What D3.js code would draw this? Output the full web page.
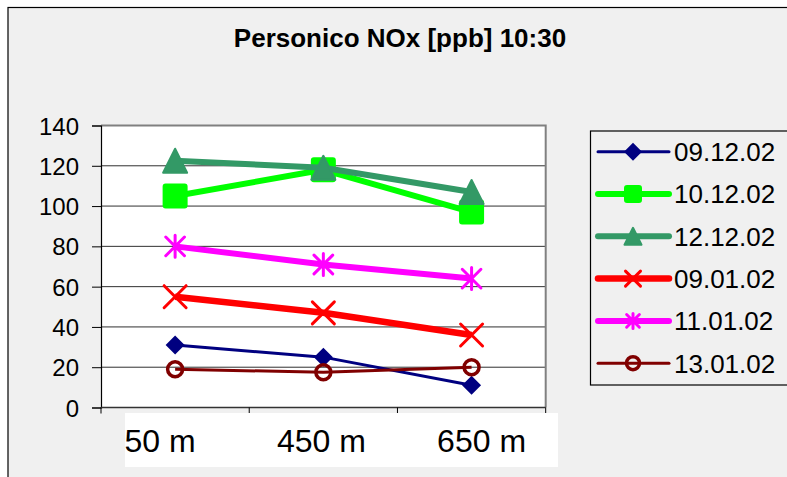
<!DOCTYPE html>
<html>
<head>
<meta charset="utf-8">
<script src="https://cdn.jsdelivr.net/npm/d3@7"></script>
<style>
  html, body { margin: 0; padding: 0; background: #ffffff; }
  svg { display: block; font-family: "Liberation Sans", Arial, sans-serif; }
</style>
</head>
<body>
<svg id="chart" width="787" height="477"></svg>
<script>
// Sampling heights along the valley
const categories = ["50 m", "450 m", "650 m"];

// NOx concentrations [ppb] at 10:30 for each day
const s091202 = [31, 25, 11];
const s101202 = [105, 118, 97];
const s121202 = [122.5, 119, 107];
const s090102 = [55, 47, 36];
const s110102 = [80, 71, 64];
const s130102 = [19, 17.5, 20];

const seriesNames = ["09.12.02", "10.12.02", "12.12.02", "09.01.02", "11.01.02", "13.01.02"];
const yTicks = [0, 20, 40, 60, 80, 100, 120, 140];

const seriesValues = [s091202, s101202, s121202, s090102, s110102, s130102];

// Drawing style per series (size = plot marker, lsize = legend marker)
const styles = [
  { color: "#000080", width: 3, marker: "diamond", size: 19, lsize: 18 },
  { color: "#00ff00", width: 6, marker: "square", size: 25, lsize: 18 },
  { color: "#339966", width: 6, marker: "triangle", size: 26, lsize: 19 },
  { color: "#ff0000", width: 6.5, marker: "cross", size: 25, lsize: 18 },
  { color: "#ff00ff", width: 6, marker: "star", size: 25, lsize: 18 },
  { color: "#800000", width: 3, marker: "circle", size: 19, lsize: 17 }
];

const svg = d3.select("#chart");
const W = 787, H = 477;

// Chart area background and frame
svg.append("rect").attr("x", 8).attr("y", 7.5).attr("width", W).attr("height", H)
  .attr("fill", "#f0f0f0").attr("stroke", "#000").attr("stroke-width", 1.2);

// Title
svg.append("text").attr("x", 400).attr("y", 47)
  .attr("text-anchor", "middle").attr("font-weight", "bold")
  .attr("font-size", 26).attr("fill", "#000")
  .text("Personico NOx [ppb] 10:30");

const plot = { left: 101, right: 545.7, top: 125.5, bottom: 407.5 };

const x = d3.scaleBand().domain(categories).range([plot.left, plot.right]).padding(0);
const y = d3.scaleLinear().domain([0, 140]).range([plot.bottom, plot.top]);
const cx = c => x(c) + x.bandwidth() / 2;

// Plot area
svg.append("rect").attr("x", plot.left).attr("y", plot.top)
  .attr("width", plot.right - plot.left).attr("height", plot.bottom - plot.top)
  .attr("fill", "#ffffff");

// Horizontal gridlines
svg.append("g").selectAll("line").data(yTicks.filter(t => t > 0 && t < 140)).join("line")
  .attr("x1", plot.left).attr("x2", plot.right)
  .attr("y1", d => y(d)).attr("y2", d => y(d))
  .attr("stroke", "#303030").attr("stroke-width", 1);

// Plot frame (top / right in grey)
svg.append("path")
  .attr("d", `M${plot.left},${plot.top}H${plot.right}V${plot.bottom}`)
  .attr("fill", "none").attr("stroke", "#808080").attr("stroke-width", 2);

// Y axis
const yAxis = d3.axisLeft(y).tickValues(yTicks).tickSize(9).tickPadding(13)
  .tickFormat(d3.format("d"));
const gy = svg.append("g").attr("transform", `translate(${plot.left},0)`).call(yAxis);
gy.select(".domain").attr("stroke", "#000").attr("stroke-width", 1.2);
gy.selectAll(".tick line").attr("stroke", "#000");
gy.selectAll(".tick text").attr("font-size", 24).attr("font-family", "Liberation Sans, Arial, sans-serif")
  .attr("fill", "#000").attr("dy", "0.36em");

// X axis: category dividers below the axis line
const dividers = [0, 1, 2, 3].map(i => plot.left + i * x.step());
svg.append("line").attr("x1", plot.left).attr("x2", plot.right)
  .attr("y1", plot.bottom).attr("y2", plot.bottom)
  .attr("stroke", "#333").attr("stroke-width", 1.6);
svg.append("g").selectAll("line").data(dividers).join("line")
  .attr("x1", d => d).attr("x2", d => d)
  .attr("y1", plot.bottom).attr("y2", plot.bottom + 6)
  .attr("stroke", "#000").attr("stroke-width", 1);

// Category label band
svg.append("rect").attr("x", 125).attr("y", 413).attr("width", 433).attr("height", 54)
  .attr("fill", "#ffffff");
const labelShift = [-15, -2, 10];
svg.append("g").selectAll("text").data(categories).join("text")
  .attr("x", (d, i) => cx(d) + labelShift[i]).attr("y", 452)
  .attr("text-anchor", "middle").attr("font-size", 32).attr("fill", "#000")
  .text(d => d);

// Marker shapes
function drawMarker(g, type, s, color) {
  const h = s / 2;
  switch (type) {
    case "diamond":
      g.append("path").attr("d", `M0,${-h}L${h},0L0,${h}L${-h},0Z`).attr("fill", color);
      break;
    case "square":
      g.append("rect").attr("x", -h + 1).attr("y", -h + 1).attr("width", s - 2).attr("height", s - 2)
        .attr("rx", 2).attr("fill", color).attr("stroke", color).attr("stroke-width", 2)
        .attr("stroke-linejoin", "round");
      break;
    case "triangle":
      g.append("path").attr("d", `M0,${-h + 1}L${h - 1},${h - 1}L${-h + 1},${h - 1}Z`)
        .attr("fill", color).attr("stroke", color).attr("stroke-width", 2).attr("stroke-linejoin", "round");
      break;
    case "cross": {
      const a = h - 1.5;
      g.append("path").attr("d", `M${-a},${-a}L${a},${a}M${-a},${a}L${a},${-a}`)
        .attr("stroke", color).attr("stroke-width", 3).attr("stroke-linecap", "round");
      break;
    }
    case "star": {
      const a = h - 1.5, b = a * 0.85;
      g.append("path").attr("d", `M0,${-a}L0,${a}M${-b},${-b}L${b},${b}M${-b},${b}L${b},${-b}`)
        .attr("stroke", color).attr("stroke-width", 3).attr("stroke-linecap", "round");
      break;
    }
    case "circle":
      g.append("circle").attr("r", h - 2).attr("fill", "none")
        .attr("stroke", color).attr("stroke-width", 3.5);
      break;
  }
}

// Series lines and markers
const line = d3.line().x((d, i) => cx(categories[i])).y(d => y(d));
seriesValues.forEach((vals, k) => {
  const st = styles[k];
  const g = svg.append("g");
  g.append("path").datum(vals).attr("d", line)
    .attr("fill", "none").attr("stroke", st.color).attr("stroke-width", st.width)
    .attr("stroke-linejoin", "round");
  vals.forEach((v, i) => {
    const m = g.append("g").attr("transform", `translate(${cx(categories[i])},${y(v)})`);
    drawMarker(m, st.marker, st.size, st.color);
  });
});

// Legend
const legend = svg.append("g");
legend.append("rect").attr("x", 590.5).attr("y", 131).attr("width", 220).attr("height", 254)
  .attr("fill", "#f0f0f0").attr("stroke", "#000").attr("stroke-width", 1.2);
seriesNames.forEach((name, k) => {
  const st = styles[k];
  const yc = 151.7 + k * 42.3;
  const g = legend.append("g");
  g.append("line").attr("x1", 598).attr("x2", 669).attr("y1", yc).attr("y2", yc)
    .attr("stroke", st.color).attr("stroke-width", st.width).attr("stroke-linecap", "round");
  const m = g.append("g").attr("transform", `translate(633,${yc})`);
  drawMarker(m, st.marker, st.lsize, st.color);
  g.append("text").attr("x", 674).attr("y", yc + 9.3).attr("font-size", 26).attr("fill", "#000")
    .text(name);
});
</script>
</body>
</html>
